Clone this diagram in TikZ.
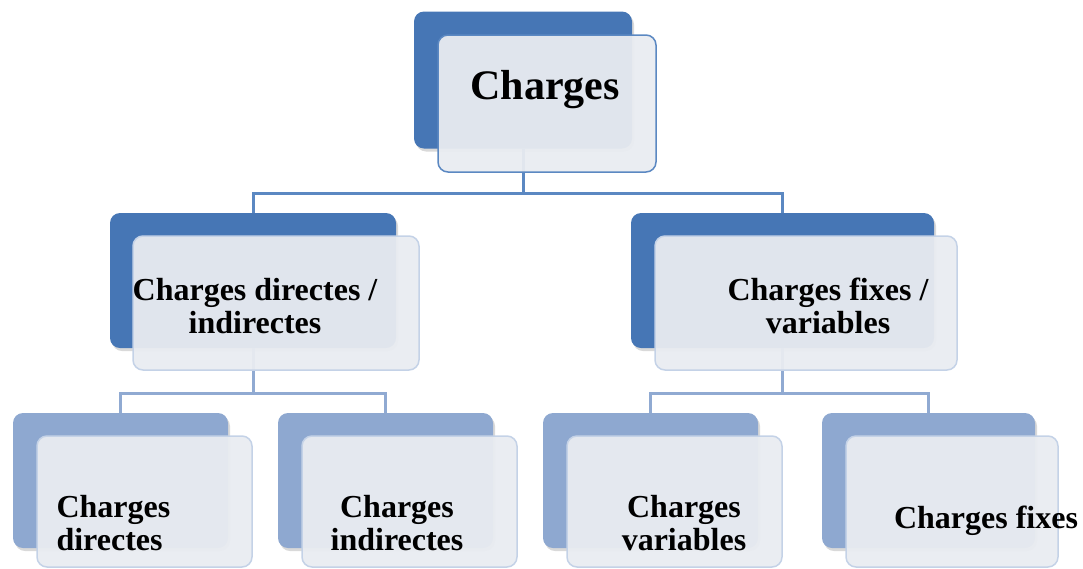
\documentclass[tikz,border=0pt]{standalone}
\usepackage{fontspec}
\setmainfont{Liberation Serif}
\usetikzlibrary{shadows}
\definecolor{bleuFonce}{HTML}{4676B5}
\definecolor{bleuClair}{HTML}{8EA8D0}
\definecolor{lienFonce}{HTML}{5B88C2}
\definecolor{lienClair}{HTML}{90AAD2}
\definecolor{fond}{HTML}{E9ECF1}
\definecolor{bordClair}{HTML}{C4D2E7}
\begin{document}
\begin{tikzpicture}[x=1pt,y=-1pt,
    arriere/.style={rounded corners=10pt, fill=#1, inner sep=0pt,
        drop shadow={opacity=0.3,shadow xshift=2pt,shadow yshift=-3pt}},
    devant/.style={draw=#1, line width=1.5pt, rounded corners=10pt, fill=fond,
        fill opacity=0.95, inner sep=0pt},
    lien/.style={draw=#1, line width=3pt},
    texte/.style={font=\bfseries\fontsize{32}{33.5}\selectfont, align=center}]
    \useasboundingbox (0,0) rectangle (1083,568);
    % boites arriere
    \node[arriere=bleuFonce, minimum width=218pt, minimum height=137pt] (charges) at (523,80) {};
    \node[arriere=bleuFonce, minimum width=286pt, minimum height=135pt] (di) at (253,280.5) {};
    \node[arriere=bleuFonce, minimum width=303pt, minimum height=135pt] (fv) at (782.5,280.5) {};
    \node[arriere=bleuClair, minimum width=215pt, minimum height=135pt] (dir) at (120.5,480.5) {};
    \node[arriere=bleuClair, minimum width=215pt, minimum height=135pt] (ind) at (385.5,480.5) {};
    \node[arriere=bleuClair, minimum width=215pt, minimum height=135pt] (var) at (650.5,480.5) {};
    \node[arriere=bleuClair, minimum width=213pt, minimum height=135pt] (fix) at (928.5,480.5) {};
    % liens
    \draw[lien=lienFonce] (charges.south) -- ++(0,45) -| (di.north);
    \draw[lien=lienFonce] (charges.south) -- ++(0,45) -| (fv.north);
    \draw[lien=lienClair] (di.south) -- ++(0,45) -| (dir.north);
    \draw[lien=lienClair] (di.south) -- ++(0,45) -| (ind.north);
    \draw[lien=lienClair] (fv.south) -- ++(0,45) -| (var.north);
    \draw[lien=lienClair] (fv.south) -- ++(0,45) -| (fix.north);
    % boites devant
    \node[devant=lienFonce, minimum width=218pt, minimum height=137pt] (chargesAv) at (547,103.5) {};
    \node[devant=bordClair, minimum width=286pt, minimum height=134pt] (diAv) at (276,303) {};
    \node[devant=bordClair, minimum width=302pt, minimum height=134pt] (fvAv) at (806,303) {};
    \node[devant=bordClair, minimum width=215pt, minimum height=131pt] (dirAv) at (144.5,501.5) {};
    \node[devant=bordClair, minimum width=215pt, minimum height=131pt] (indAv) at (409.5,501.5) {};
    \node[devant=bordClair, minimum width=215pt, minimum height=131pt] (varAv) at (674.5,501.5) {};
    \node[devant=bordClair, minimum width=212pt, minimum height=131pt] (fixAv) at (952,501.5) {};
    % textes
    \node[font=\bfseries\fontsize{42}{44}\selectfont] (tCharges) at (545,90) {Charges};
    \node[texte] (tDi) at (255,306) {Charges directes /\\indirectes};
    \node[texte] (tFv) at (828,306) {Charges fixes /\\variables};
    \node[texte, align=left, anchor=west] (tDir) at (53,523) {Charges\\directes};
    \node[texte] (tInd) at (397,523) {Charges\\indirectes};
    \node[texte] (tVar) at (684,523) {Charges\\variables};
    \node[texte] (tFix) at (986,521) {Charges fixes};
\end{tikzpicture}
\end{document}
